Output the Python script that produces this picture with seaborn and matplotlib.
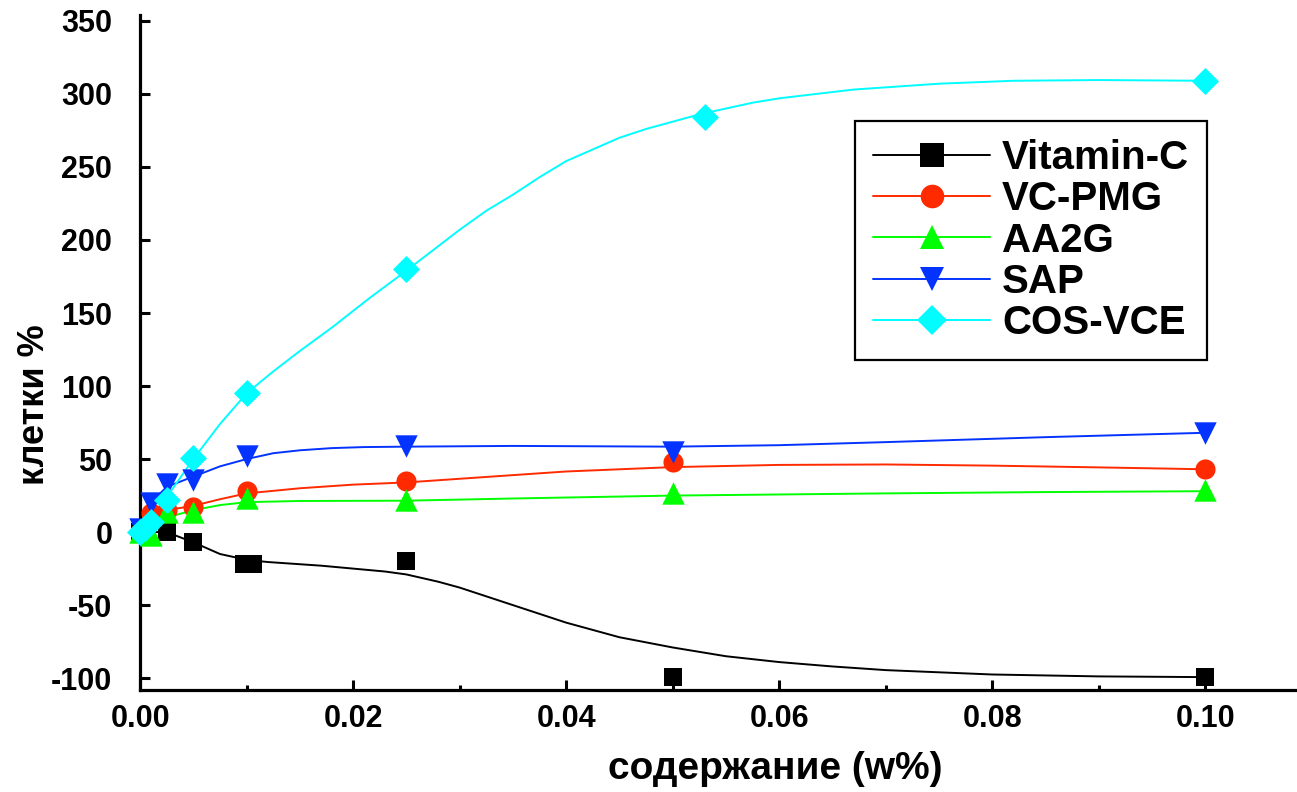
import numpy as np
import pandas as pd
import matplotlib
matplotlib.use("Agg")
import matplotlib.pyplot as plt
import seaborn as sns
from matplotlib.lines import Line2D
from matplotlib.ticker import MultipleLocator, FormatStrFormatter

# measured points
vc_x = [0.0, 0.0025, 0.005, 0.0098, 0.0106, 0.025, 0.05, 0.1]
vc_y = [0, 0, -7, -22, -22, -20, -99, -99]
pmg_x = [0.0, 0.001, 0.0025, 0.005, 0.01, 0.025, 0.05, 0.1]
pmg_y = [0, 13, 15, 17, 28, 35, 48, 43]
aa2g_x = [0.0, 0.001, 0.0025, 0.005, 0.01, 0.025, 0.05, 0.1]
aa2g_y = [0, -2, 14, 14, 23, 22, 27, 29]
sap_x = [0.0, 0.001, 0.0025, 0.005, 0.01, 0.025, 0.05, 0.1]
sap_y = [2, 20, 33, 36, 52, 59, 55, 68]
cos_x = [0.0, 0.0005, 0.001, 0.0025, 0.005, 0.01, 0.025, 0.053, 0.1]
cos_y = [0, 3, 7, 22, 51, 95, 180, 284, 309]

# fitted curves
vc_fx = [0.0, 0.0025, 0.005, 0.0075, 0.01, 0.012, 0.017, 0.023, 0.025, 0.028, 0.03, 0.0325,
         0.035, 0.0375, 0.04, 0.045, 0.05, 0.055, 0.06, 0.065, 0.07, 0.08, 0.09, 0.1]
vc_fy = [0, 0, -7, -15, -19, -20.5, -23, -27, -29, -34, -38, -44,
         -50, -56, -62, -72, -79, -85, -89, -92, -94.5, -97.5, -98.8, -99.3]
pmg_fx = [0.0, 0.001, 0.0025, 0.005, 0.0075, 0.01, 0.015, 0.02, 0.025, 0.03, 0.035,
          0.04, 0.05, 0.06, 0.07, 0.08, 0.09, 0.1]
pmg_fy = [10, 12.5, 15, 18, 22.5, 26.5, 30, 32.5, 34, 36.5, 39,
          41.5, 44.5, 46, 46.3, 45.5, 44.3, 43]
aa2g_fx = [0.0008, 0.0025, 0.005, 0.0075, 0.01, 0.015, 0.025, 0.035, 0.05, 0.07, 0.085, 0.1]
aa2g_fy = [-1, 10, 15, 18.5, 20.5, 21.3, 21.5, 23, 25, 26.5, 27.4, 28]
sap_fx = [0.0, 0.001, 0.0025, 0.005, 0.0075, 0.01, 0.0125, 0.015, 0.018, 0.021, 0.025, 0.035,
          0.05, 0.06, 0.07, 0.085, 0.1]
sap_fy = [3, 20, 31, 38, 45, 50, 54, 56, 57.5, 58.2, 58.5, 59,
          58.5, 59.5, 61.6, 65, 68]
cos_fx = [0.0, 0.001, 0.0025, 0.005, 0.0075, 0.01, 0.0125, 0.015, 0.018, 0.0215, 0.025,
          0.0275, 0.03, 0.0325, 0.035, 0.0375, 0.04, 0.0425, 0.045, 0.0475, 0.05, 0.0525,
          0.055, 0.0575, 0.06, 0.0635, 0.067, 0.071, 0.075, 0.082, 0.09, 0.1]
cos_fy = [0, 8, 24, 50, 74, 95, 110, 124, 140, 160, 179,
          193, 207, 220, 231, 243, 254, 262, 270, 276, 281, 286,
          290, 294, 297, 300, 303, 305, 307, 309, 309.5, 309]

labels = ["Vitamin-C", "VC-PMG", "AA2G", "SAP", "COS-VCE"]
colors = ["#000000", "#ff2a00", "#00ff00", "#0433ff", "#00fdff"]
markers = ["s", "o", "^", "v", "D"]
sizes = [170, 210, 260, 260, 190]

points = [(vc_x, vc_y), (pmg_x, pmg_y), (aa2g_x, aa2g_y), (sap_x, sap_y), (cos_x, cos_y)]
curves = [(vc_fx, vc_fy), (pmg_fx, pmg_fy), (aa2g_fx, aa2g_fy), (sap_fx, sap_fy), (cos_fx, cos_fy)]

sns.set_style("ticks")
plt.rcParams["font.family"] = ["Liberation Sans", "DejaVu Sans"]
plt.rcParams["font.weight"] = "bold"
plt.rcParams["text.color"] = "black"
plt.rcParams["axes.labelcolor"] = "black"
plt.rcParams["xtick.color"] = "black"
plt.rcParams["ytick.color"] = "black"
plt.rcParams["axes.unicode_minus"] = False

fig = plt.figure(figsize=(12.97, 7.92), dpi=100)
ax = fig.add_axes([0.108, 0.129, 0.892, 0.852])

for i, name in enumerate(labels):
    cdf = pd.DataFrame({"x": curves[i][0], "y": curves[i][1]})
    sns.lineplot(data=cdf, x="x", y="y", color=colors[i], lw=1.4, sort=False,
                 estimator=None, ax=ax, zorder=2)
for i, name in enumerate(labels):
    pdf = pd.DataFrame({"x": points[i][0], "y": points[i][1]})
    sns.scatterplot(data=pdf, x="x", y="y", color=colors[i], marker=markers[i],
                    s=sizes[i], linewidth=0, ax=ax, zorder=3 + i, clip_on=False)

ax.set_xlim(0, 0.1086)
ax.set_ylim(-108, 354)
ax.xaxis.set_major_locator(MultipleLocator(0.02))
ax.xaxis.set_minor_locator(MultipleLocator(0.01))
ax.yaxis.set_major_locator(MultipleLocator(50))
ax.xaxis.set_major_formatter(FormatStrFormatter("%.2f"))

sns.despine(ax=ax)
for s in ["left", "bottom"]:
    ax.spines[s].set_linewidth(2.3)
    ax.spines[s].set_color("black")
ax.tick_params(axis="both", which="major", direction="in", length=7, width=2.2,
               labelsize=22, colors="black")
ax.tick_params(axis="x", which="major", pad=10)
ax.tick_params(axis="y", which="major", pad=20)
ax.tick_params(axis="x", which="minor", direction="in", length=3.5, width=2.2)

ax.set_xlabel("содержание (w%)", fontsize=28, fontweight="bold")
ax.set_ylabel("клетки %", fontsize=26, fontweight="bold")
ax.xaxis.set_label_coords(0.549, -0.09)
ax.yaxis.set_label_coords(-0.076, 0.422)

handles = [Line2D([], [], color=colors[i], marker=markers[i],
                  markersize=17 if markers[i] != "D" else 15,
                  lw=1.4, markeredgewidth=0) for i in range(len(labels))]
leg = ax.legend(handles, labels, loc="upper left", bbox_to_anchor=(0.618, 0.843),
                borderaxespad=0, prop={"weight": "bold", "size": 29},
                handlelength=2.9, handletextpad=0.3, borderpad=0.45, labelspacing=0.08,
                frameon=True, fancybox=False, framealpha=1, edgecolor="black")
leg.get_frame().set_linewidth(1.6)

fig.savefig("out.png", dpi=100)
